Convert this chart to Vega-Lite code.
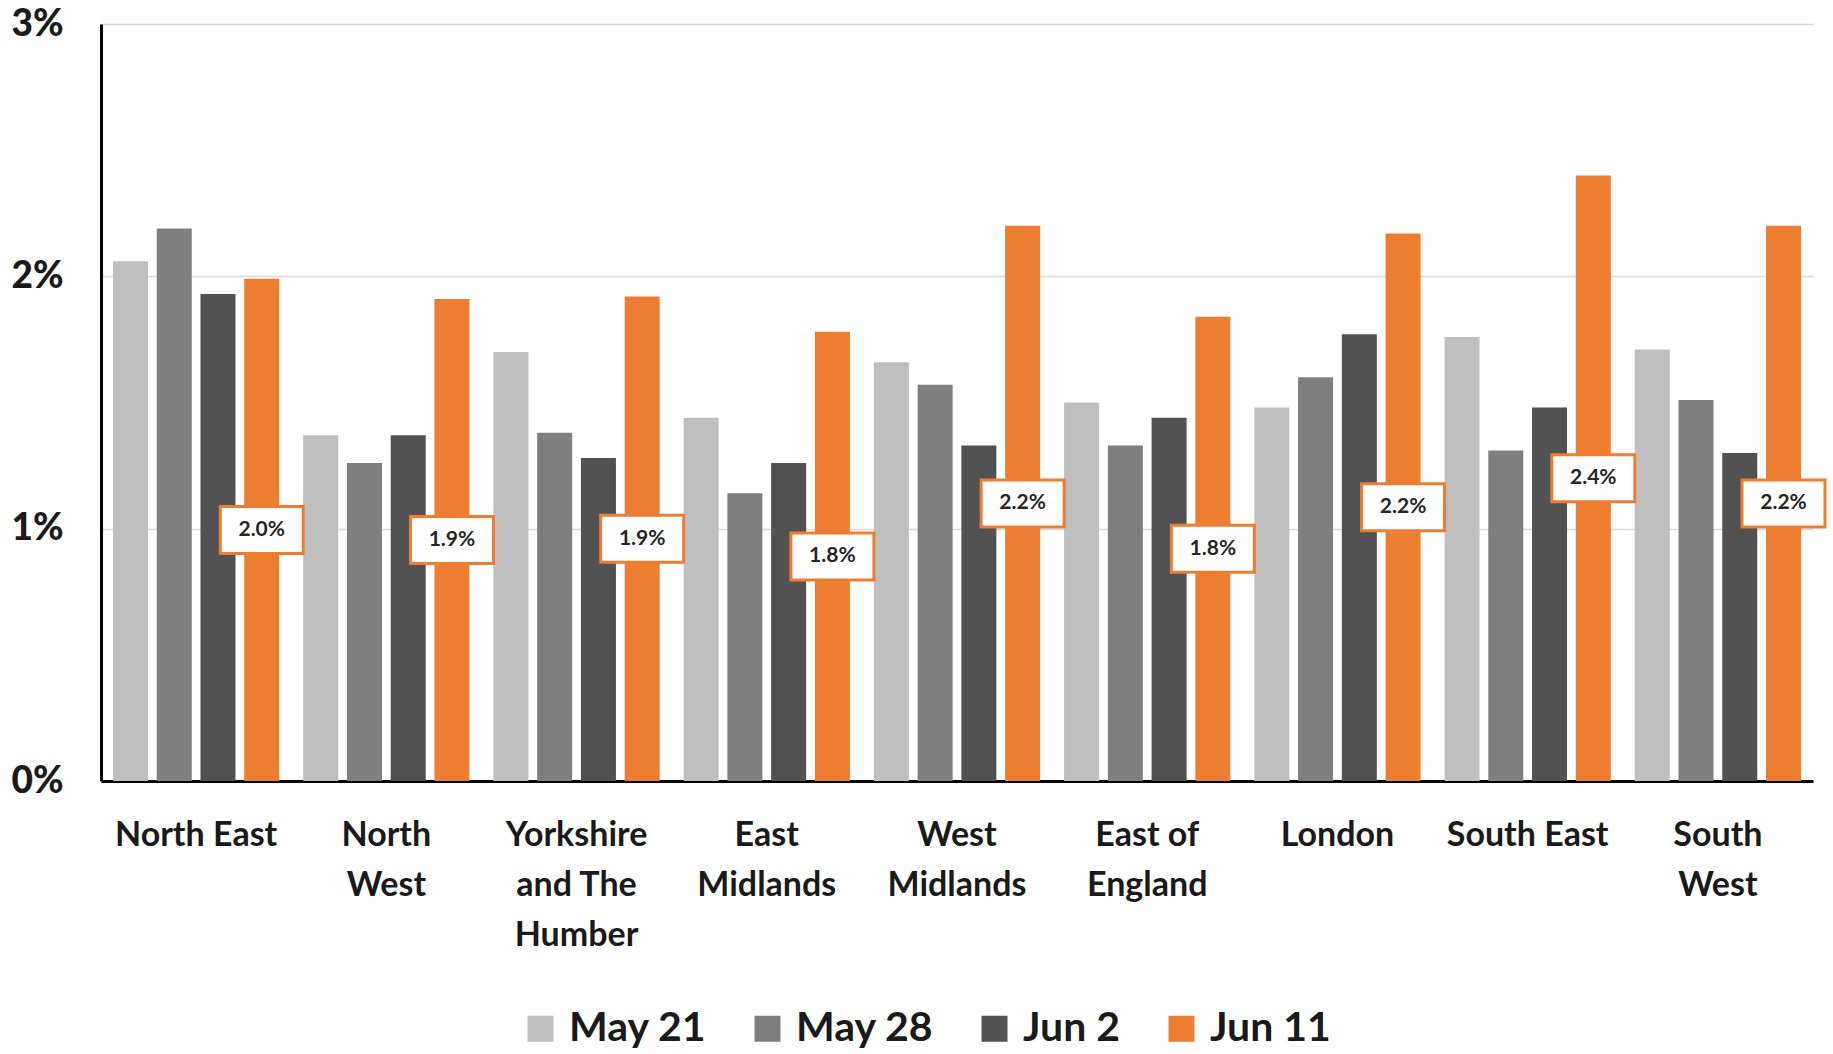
{
  "$schema": "https://vega.github.io/schema/vega-lite/v6.json",
  "autosize": {"type": "none"},
  "width": 1712,
  "height": 757,
  "padding": {"left": 101, "top": 24, "right": 20, "bottom": 273},
  "background": "white",
  "config": {
    "view": {"stroke": null},
    "font": "Lato"
  },
  "data": {
    "values": [
      {"region": "North East", "date": "May 21", "value": 0.0206},
      {"region": "North East", "date": "May 28", "value": 0.0219},
      {"region": "North East", "date": "Jun 2", "value": 0.0193},
      {"region": "North East", "date": "Jun 11", "value": 0.0199},
      {"region": "North West", "date": "May 21", "value": 0.0137},
      {"region": "North West", "date": "May 28", "value": 0.0126},
      {"region": "North West", "date": "Jun 2", "value": 0.0137},
      {"region": "North West", "date": "Jun 11", "value": 0.0191},
      {"region": "Yorkshire and The Humber", "date": "May 21", "value": 0.0170},
      {"region": "Yorkshire and The Humber", "date": "May 28", "value": 0.0138},
      {"region": "Yorkshire and The Humber", "date": "Jun 2", "value": 0.0128},
      {"region": "Yorkshire and The Humber", "date": "Jun 11", "value": 0.0192},
      {"region": "East Midlands", "date": "May 21", "value": 0.0144},
      {"region": "East Midlands", "date": "May 28", "value": 0.0114},
      {"region": "East Midlands", "date": "Jun 2", "value": 0.0126},
      {"region": "East Midlands", "date": "Jun 11", "value": 0.0178},
      {"region": "West Midlands", "date": "May 21", "value": 0.0166},
      {"region": "West Midlands", "date": "May 28", "value": 0.0157},
      {"region": "West Midlands", "date": "Jun 2", "value": 0.0133},
      {"region": "West Midlands", "date": "Jun 11", "value": 0.0220},
      {"region": "East of England", "date": "May 21", "value": 0.0150},
      {"region": "East of England", "date": "May 28", "value": 0.0133},
      {"region": "East of England", "date": "Jun 2", "value": 0.0144},
      {"region": "East of England", "date": "Jun 11", "value": 0.0184},
      {"region": "London", "date": "May 21", "value": 0.0148},
      {"region": "London", "date": "May 28", "value": 0.0160},
      {"region": "London", "date": "Jun 2", "value": 0.0177},
      {"region": "London", "date": "Jun 11", "value": 0.0217},
      {"region": "South East", "date": "May 21", "value": 0.0176},
      {"region": "South East", "date": "May 28", "value": 0.0131},
      {"region": "South East", "date": "Jun 2", "value": 0.0148},
      {"region": "South East", "date": "Jun 11", "value": 0.0240},
      {"region": "South West", "date": "May 21", "value": 0.0171},
      {"region": "South West", "date": "May 28", "value": 0.0151},
      {"region": "South West", "date": "Jun 2", "value": 0.0130},
      {"region": "South West", "date": "Jun 11", "value": 0.0220}
    ]
  },
  "encoding": {
    "x": {
      "field": "region",
      "type": "nominal",
      "scale": {
        "domain": ["North East", "North West", "Yorkshire and The Humber", "East Midlands", "West Midlands", "East of England", "London", "South East", "South West"],
        "paddingInner": 0.126,
        "paddingOuter": 0.063
      },
      "axis": {
        "title": null,
        "labelAngle": 0,
        "labelFontSize": 34,
        "labelFontWeight": "bold",
        "labelColor": "#1a1a1a",
        "labelLineHeight": 50,
        "labelPadding": 37,
        "labelLimit": 400,
        "ticks": false,
        "domain": true,
        "domainColor": "#000000",
        "domainWidth": 3,
        "labelExpr": "datum.value == 'North West' ? ['North', 'West'] : datum.value == 'Yorkshire and The Humber' ? ['Yorkshire', 'and The', 'Humber'] : datum.value == 'East Midlands' ? ['East', 'Midlands'] : datum.value == 'West Midlands' ? ['West', 'Midlands'] : datum.value == 'East of England' ? ['East of', 'England'] : datum.value == 'South West' ? ['South', 'West'] : datum.value"
      }
    },
    "xOffset": {
      "field": "date",
      "type": "nominal",
      "scale": {"domain": ["May 21", "May 28", "Jun 2", "Jun 11"], "paddingInner": 0.2, "paddingOuter": 0}
    }
  },
  "layer": [
    {
      "mark": {"type": "bar"},
      "encoding": {
        "y": {
          "field": "value",
          "type": "quantitative",
          "scale": {"domain": [0, 0.03], "nice": false},
          "axis": {
            "title": null,
            "values": [0, 0.01, 0.02, 0.03],
            "format": ".0%",
            "labelFontSize": 37,
            "labelFontWeight": 900,
            "labelColor": "#1a1a1a",
            "labelPadding": 38,
            "ticks": false,
            "domain": true,
            "domainColor": "#000000",
            "domainWidth": 3,
            "grid": true,
            "gridColor": "#d9d9d9",
            "gridWidth": 1.5
          }
        },
        "color": {
          "field": "date",
          "type": "nominal",
          "scale": {
            "domain": ["May 21", "May 28", "Jun 2", "Jun 11"],
            "range": ["#bfbfbf", "#7f7f7f", "#525252", "#ed7d31"]
          },
          "legend": {
            "title": null,
            "orient": "none",
            "direction": "horizontal",
            "legendX": 419,
            "legendY": 984,
            "symbolType": "square",
            "symbolSize": 676,
            "symbolStrokeWidth": 0,
            "labelFontSize": 41,
            "labelFontWeight": "bold",
            "labelColor": "#1a1a1a",
            "labelOffset": 8,
            "columnPadding": 40
          }
        }
      }
    },
    {
      "transform": [{"filter": "datum.date == 'Jun 11'"}],
      "layer": [
        {
          "mark": {
            "type": "point",
            "shape": "M-1,-0.566H1V0.566H-1Z",
            "filled": true,
            "fill": "white",
            "fillOpacity": 1,
            "stroke": "#ed7d31",
            "strokeWidth": 3,
            "opacity": 1,
            "size": 6889
          },
          "encoding": {
            "y": {"field": "value", "type": "quantitative", "scale": {"domain": [0, 0.06], "nice": false}, "axis": null}
          }
        },
        {
          "mark": {"type": "text", "fontSize": 21, "fontWeight": "bold", "color": "#262626", "baseline": "middle", "align": "center"},
          "encoding": {
            "y": {"field": "value", "type": "quantitative", "scale": {"domain": [0, 0.06], "nice": false}, "axis": null},
            "text": {"field": "value", "type": "quantitative", "format": ".1%"}
          }
        }
      ]
    }
  ],
  "resolve": {"scale": {"y": "independent"}}
}
